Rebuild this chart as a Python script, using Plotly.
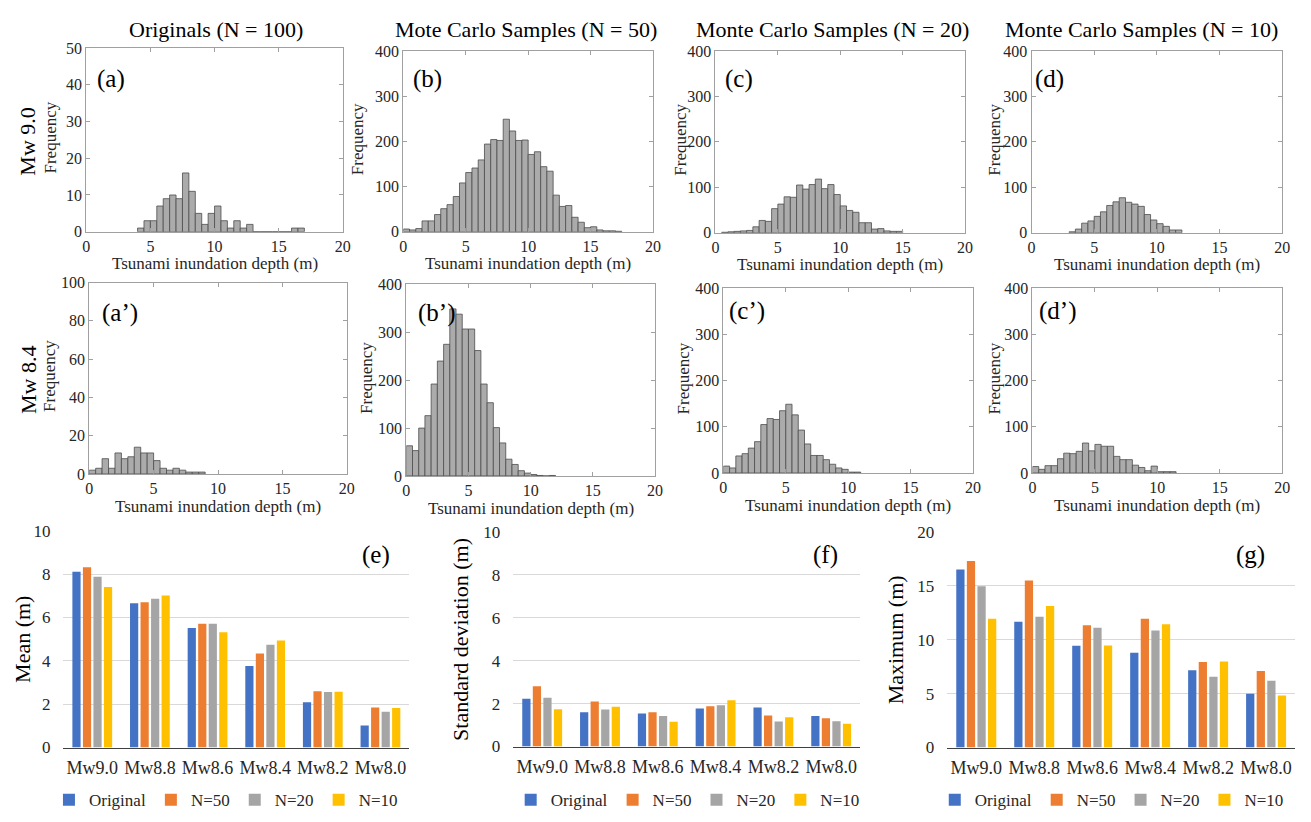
import plotly.graph_objects as go

W, H = 1311, 822
FONT = "Liberation Serif, Times New Roman, Times, serif"

# ---------------- histogram data (bin width 0.5 m) ----------------
BIN_W = 0.5
a_start = 4.0
a_counts = [1, 3, 3, 7, 9, 10, 9, 16, 11, 5, 2, 5, 7, 3, 1, 3, 1, 2, 0, 0, 0, 0, 0, 0, 1, 1]
b_start = 0.0
b_counts = [6, 4, 7, 24, 24, 38, 51, 60, 78, 108, 131, 141, 159, 194, 204, 202, 249, 223,
            202, 203, 171, 177, 144, 134, 81, 56, 58, 32, 21, 9, 11, 4, 2, 2, 1]
c_start = 0.5
c_counts = [1, 2, 3, 4, 5, 13, 27, 25, 53, 63, 79, 78, 105, 96, 106, 118, 97, 106, 84, 59,
            49, 45, 22, 22, 8, 9, 4, 3, 3]
d_start = 3.0
d_counts = [2, 8, 21, 26, 36, 46, 60, 68, 77, 67, 63, 58, 40, 28, 20, 14, 6, 6]
a2_start = 0.0
a2_counts = [2, 3, 8, 3, 11, 8, 9, 14, 11, 11, 7, 3, 2, 3, 2, 1, 1, 1]
b2_start = 0.0
b2_counts = [63, 53, 100, 126, 192, 240, 275, 349, 338, 307, 307, 262, 192, 153, 101, 69,
             35, 24, 11, 6, 3, 1, 0, 1]
c2_start = 0.0
c2_counts = [15, 11, 37, 42, 54, 68, 105, 118, 116, 135, 149, 126, 93, 63, 38, 38, 29, 19,
             11, 8, 2, 2]
d2_start = 0.0
d2_counts = [14, 8, 16, 16, 31, 43, 42, 47, 65, 48, 62, 58, 58, 36, 29, 29, 17, 12, 5, 15,
             3, 3, 3]

col_titles = ["Originals (N = 100)", "Mote Carlo Samples (N = 50)",
              "Monte Carlo Samples (N = 20)", "Monte Carlo Samples (N = 10)"]
row_titles = ["Mw 9.0", "Mw 8.4"]
x_hist_title = "Tsunami inundation depth (m)"

# ---------------- bar chart data ----------------
categories = ["Mw9.0", "Mw8.8", "Mw8.6", "Mw8.4", "Mw8.2", "Mw8.0"]
series_names = ["Original", "N=50", "N=20", "N=10"]
mean_orig = [8.10, 6.65, 5.51, 3.76, 2.09, 1.01]
mean_n50 = [8.31, 6.70, 5.71, 4.34, 2.59, 1.85]
mean_n20 = [7.87, 6.86, 5.71, 4.74, 2.56, 1.65]
mean_n10 = [7.40, 7.01, 5.32, 4.94, 2.57, 1.82]
std_orig = [2.22, 1.60, 1.54, 1.77, 1.82, 1.42]
std_n50 = [2.80, 2.10, 1.60, 1.88, 1.45, 1.32]
std_n20 = [2.27, 1.72, 1.42, 1.92, 1.16, 1.18]
std_n10 = [1.74, 1.85, 1.15, 2.15, 1.36, 1.06]
max_orig = [16.50, 11.66, 9.43, 8.79, 7.16, 4.98]
max_n50 = [17.28, 15.47, 11.33, 11.93, 7.92, 7.10]
max_n20 = [14.95, 12.11, 11.09, 10.85, 6.56, 6.19]
max_n10 = [11.93, 13.11, 9.45, 11.42, 7.98, 4.83]

SERIES_COLORS = ["#4472C4", "#ED7D31", "#A5A5A5", "#FFC000"]


def px_x(a, b):
    return [a / W, b / W]


def px_y(top, bottom):
    return [1 - bottom / H, 1 - top / H]


fig = go.Figure()
layout = dict(width=W, height=H, margin=dict(l=0, r=0, t=0, b=0),
              plot_bgcolor="white", paper_bgcolor="white",
              barmode="group", bargap=0.27, bargroupgap=0.22,
              font=dict(family=FONT, color="#222222"))
annotations = []

# ---------------- histograms ----------------
hists = [
    (a_start, a_counts, 50, 10, (83, 342), (40, 228), "(a)", (92, 72), 47),
    (b_start, b_counts, 400, 100, (403, 655), (43, 228), "(b)", (411, 72), 357),
    (c_start, c_counts, 400, 100, (718, 970), (43, 229), "(c)", (726, 72), 683),
    (d_start, d_counts, 400, 100, (1037, 1290), (43, 229), "(d)", (1039, 72), 1000),
    (a2_start, a2_counts, 100, 20, (86, 346), (280, 476), "(a’)", (97, 311), 46),
    (b2_start, b2_counts, 400, 100, (406, 657), (282, 478), "(b’)", (416, 311), 366),
    (c2_start, c2_counts, 400, 100, (726, 978), (286, 475), "(c’)", (730, 309), 686),
    (d2_start, d2_counts, 400, 100, (1038, 1290), (286, 475), "(d’)", (1043, 309), 1000),
]

for i, (start, counts, ymax, dt, xd, yd, lab, lpos, fx) in enumerate(hists):
    n = i + 1
    xa = "x" if n == 1 else f"x{n}"
    ya = "y" if n == 1 else f"y{n}"
    centers = [start + BIN_W * (k + 0.5) for k in range(len(counts))]
    fig.add_trace(go.Bar(x=centers, y=counts, width=BIN_W, xaxis=xa, yaxis=ya,
                         marker=dict(color="#ababab", line=dict(color="#4d4d4d", width=0.8)),
                         showlegend=False))
    axis_common = dict(showline=True, mirror="ticks", linecolor="#a0a0a0", linewidth=1,
                       ticks="inside", ticklen=4, tickcolor="#a0a0a0", showgrid=False,
                       zeroline=False, tickfont=dict(family=FONT, size=16, color="#262626"))
    layout[f"xaxis{n}"] = dict(domain=px_x(*xd), anchor=ya, range=[0, 20], tickvals=[0, 5, 10, 15, 20],
                               **axis_common)
    layout[f"yaxis{n}"] = dict(domain=px_y(*yd), anchor=xa, range=[0, ymax], dtick=dt,
                               **axis_common)
    annotations.append(dict(text=lab, x=lpos[0] / W, y=1 - lpos[1] / H, xref="paper", yref="paper",
                            xanchor="left", yanchor="middle", showarrow=False,
                            font=dict(family=FONT, size=25, color="black")))
    ymid = (yd[0] + yd[1]) / 2 - 2
    annotations.append(dict(text="Frequency", x=fx / W, y=1 - ymid / H, xref="paper", yref="paper",
                            textangle=-90, xanchor="center", yanchor="middle", showarrow=False,
                            font=dict(family=FONT, size=17, color="#262626")))
    annotations.append(dict(text=x_hist_title, x=(xd[0] + xd[1]) / 2 / W,
                            y=1 - (yd[1] + 33) / H, xref="paper", yref="paper",
                            xanchor="center", yanchor="middle", showarrow=False,
                            font=dict(family=FONT, size=17, color="#262626")))

for k, (t, cx) in enumerate(zip(col_titles, [214, 527, 836, 1148])):
    annotations.append(dict(text=t, x=cx / W, y=1 - 21 / H, xref="paper", yref="paper",
                            xanchor="center", yanchor="middle", showarrow=False,
                            font=dict(family=FONT, size=22, color="black")))
for t, cy in zip(row_titles, [136, 380]):
    annotations.append(dict(text=t, x=24 / W, y=1 - cy / H, xref="paper", yref="paper",
                            textangle=-90, xanchor="center", yanchor="middle", showarrow=False,
                            font=dict(family=FONT, size=22, color="black")))

# ---------------- bar charts ----------------
bars = [
    ([mean_orig, mean_n50, mean_n20, mean_n10], 10, 2, (60, 409), (534, 756), "Mean (m)", 18,
     "(e)", (375, 559), "legend", 224),
    ([std_orig, std_n50, std_n20, std_n10], 10, 2, (514, 864), (535, 755), "Standard deviation (m)", 460,
     "(f)", (829, 559), "legend2", 690),
    ([max_orig, max_n50, max_n20, max_n10], 20, 5, (952, 1303), (535, 756), "Maximum (m)", 900,
     "(g)", (1258, 559), "legend3", 1118),
]
for j, (series, ymax, dt, xd, yd, ytitle, ytx, lab, lpos, leg, legx) in enumerate(bars):
    n = 9 + j
    xa, ya = f"x{n}", f"y{n}"
    for s, name, colr in zip(series, series_names, SERIES_COLORS):
        fig.add_trace(go.Bar(x=categories, y=s, name=name, xaxis=xa, yaxis=ya,
                             marker=dict(color=colr, line=dict(width=0)),
                             legend=leg, showlegend=True))
    layout[f"xaxis{n}"] = dict(domain=px_x(*xd), anchor=ya, type="category", showline=True,
                               linecolor="#404040", linewidth=1.3, ticks="", showgrid=False,
                               tickfont=dict(family=FONT, size=18, color="#262626"),
                               ticklabelstandoff=4)
    layout[f"yaxis{n}"] = dict(domain=px_y(*yd), anchor=xa, range=[0, ymax], dtick=dt,
                               showline=False, showgrid=True, gridcolor="#d9d9d9", gridwidth=1,
                               zeroline=False, ticks="",
                               tickfont=dict(family=FONT, size=17, color="#262626"),
                               ticklabelstandoff=12)
    annotations.append(dict(text=ytitle, x=ytx / W, y=1 - (yd[0] + yd[1]) / 2 / H,
                            xref="paper", yref="paper", textangle=-90, xanchor="center",
                            yanchor="middle", showarrow=False,
                            font=dict(family=FONT, size=22, color="black")))
    annotations.append(dict(text=lab, x=lpos[0] / W, y=1 - lpos[1] / H, xref="paper", yref="paper",
                            xanchor="center", yanchor="middle", showarrow=False,
                            font=dict(family=FONT, size=25, color="black")))
    layout[leg] = dict(orientation="h", x=legx / W, y=1 - 810 / H, xanchor="center",
                       yanchor="middle", font=dict(family=FONT, size=17, color="#262626"),
                       itemwidth=30, bgcolor="rgba(0,0,0,0)", tracegroupgap=0)

layout["annotations"] = annotations
fig.update_layout(**layout)
fig.write_html("out.html", config={"displayModeBar": False},
               post_script="document.body.style.margin='0';document.body.style.overflow='hidden';")
